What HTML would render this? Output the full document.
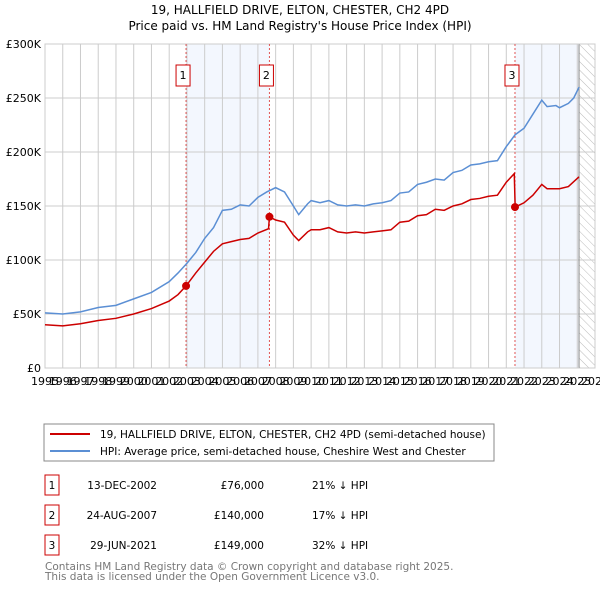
<!DOCTYPE html>
<html><head><meta charset="utf-8"><style>
body{margin:0;background:#fff;font-family:"Liberation Sans","DejaVu Sans",sans-serif;}
svg text{font-family:"DejaVu Sans","Liberation Sans",sans-serif;}
</style></head><body>
<svg id="c" width="600" height="590" xmlns="http://www.w3.org/2000/svg">
<defs><pattern id="h" width="6" height="6" patternUnits="userSpaceOnUse" patternTransform="rotate(-45)"><line x1="0" y1="0" x2="0" y2="6" stroke="#bbb" stroke-width="1"/></pattern></defs>
<text x="300" y="14" text-anchor="middle" font-size="12">19, HALLFIELD DRIVE, ELTON, CHESTER, CH2 4PD</text>
<text x="300" y="30" text-anchor="middle" font-size="12">Price paid vs. HM Land Registry's House Price Index (HPI)</text>
<g id="plot"></g>
<rect x="44" y="424" width="450" height="37" fill="none" stroke="#888"/>
<line x1="50" y1="434" x2="90" y2="434" stroke="#cc0000" stroke-width="2"/>
<text x="100" y="438" font-size="10.5">19, HALLFIELD DRIVE, ELTON, CHESTER, CH2 4PD (semi-detached house)</text>
<line x1="50" y1="451" x2="90" y2="451" stroke="#5b8fd4" stroke-width="2"/>
<text x="100" y="455" font-size="10.5">HPI: Average price, semi-detached house, Cheshire West and Chester</text>
<g id="tbl" font-size="10.5"></g>
<text x="45" y="570" font-size="10.5" fill="#777">Contains HM Land Registry data © Crown copyright and database right 2025.</text>
<text x="45" y="580" font-size="10.5" fill="#777">This data is licensed under the Open Government Licence v3.0.</text>
</svg>
<script>
const hpiYears=[1995,1996,1997,1998,1999,2000,2001,2002,2002.5,2003,2003.5,2004,2004.5,2005,2005.5,2006,2006.5,2007,2007.5,2008,2008.5,2009,2009.3,2009.8,2010,2010.5,2011,2011.5,2012,2012.5,2013,2013.5,2014,2014.5,2015,2015.5,2016,2016.5,2017,2017.5,2018,2018.5,2019,2019.5,2020,2020.5,2021,2021.5,2022,2022.5,2023,2023.3,2023.8,2024,2024.5,2024.8,2025.1];
const hpiValues=[51,50,52,56,58,64,70,80,88,97,107,120,130,146,147,151,150,158,163,167,163,150,142,152,155,153,155,151,150,151,150,152,153,155,162,163,170,172,175,174,181,183,188,189,191,192,205,216,222,235,248,242,243,241,245,250,260];
const ppYears=[1995,1996,1997,1998,1999,2000,2001,2002,2002.5,2002.95,2003.5,2004,2004.5,2005,2005.5,2006,2006.5,2007,2007.6,2007.65,2008,2008.5,2009,2009.3,2009.8,2010,2010.5,2011,2011.5,2012,2012.5,2013,2013.5,2014,2014.5,2015,2015.5,2016,2016.5,2017,2017.5,2018,2018.5,2019,2019.5,2020,2020.5,2021,2021.45,2021.5,2022,2022.5,2023,2023.3,2024,2024.5,2025.1];
const ppValues=[40,39,41,44,46,50,55,62,68,76,88,98,108,115,117,119,120,125,129,140,137,135,123,118,126,128,128,130,126,125,126,125,126,127,128,135,136,141,142,147,146,150,152,156,157,159,160,172,180,149,153,160,170,166,166,168,177];
const saleYears=[2002.95,2007.65,2021.49];
const saleValues=[76,140,149];
const saleLabels=["1","2","3"];
const saleDates=["13-DEC-2002","24-AUG-2007","29-JUN-2021"];
const salePrices=["£76,000","£140,000","£149,000"];
const saleDiffs=["21% ↓ HPI","17% ↓ HPI","32% ↓ HPI"];
const yTicks=[0,50,100,150,200,250,300];
const yTickLabels=["£0","£50K","£100K","£150K","£200K","£250K","£300K"];
const xTicks=[];for(let y=1995;y<=2026;y++)xTicks.push(y);

const L=45,R=595,T=44,B=368,NS="http://www.w3.org/2000/svg";
const xs=y=>L+(y-1995)/31*(R-L);
const ys=v=>B-v/300*(B-T);
const g=document.getElementById('plot');
function mk(t,a,p){const e=document.createElementNS(NS,t);for(const k in a)e.setAttribute(k,a[k]);(p||g).appendChild(e);return e;}
let e;
e=mk('rect',{x:xs(saleYears[0]),y:T,width:xs(saleYears[1])-xs(saleYears[0]),height:B-T,fill:'#f3f7fe'});


e=mk('rect',{x:xs(saleYears[2]),y:T,width:xs(2025.1)-xs(saleYears[2]),height:B-T,fill:'#f3f7fe'});


e=mk('rect',{x:xs(2025.1),y:T,width:R-xs(2025.1),height:B-T,fill:'url(#h)'});


xTicks.forEach(y=>{
 e=mk('line',{x1:xs(y),x2:xs(y),y1:T,y2:B,stroke:'#ccc'});
 
 
 e=mk('text',{x:xs(y),y:B+17,'font-size':11,'text-anchor':'middle'});
 e.textContent=y;
 
 
});
yTicks.forEach((v,i)=>{
 e=mk('line',{x1:L,x2:R,y1:ys(v),y2:ys(v),stroke:'#ccc'});
 
 
 e=mk('text',{x:L-4,y:ys(v)+4,'font-size':11,'text-anchor':'end'});
 e.textContent=yTickLabels[i];
 
 
});
e=mk('line',{x1:xs(2025.1),x2:xs(2025.1),y1:T,y2:B,stroke:'#888'});


e=mk('rect',{x:L,y:T,width:R-L,height:B-T,fill:'none',stroke:'#ccc'});


saleYears.forEach((y,i)=>{
 e=mk('line',{x1:xs(y),x2:xs(y),y1:T,y2:B,stroke:'#e05555','stroke-dasharray':'2,2'});
 
 
 e=mk('rect',{x:xs(y)-10,y:65,width:14,height:21,fill:'#fff',stroke:'#cc0000'});
 
 
 e=mk('text',{x:xs(y)-3,y:79,'font-size':11,'text-anchor':'middle'});
 e.textContent=saleLabels[i];
 
 
});
e=mk('polyline',{points:hpiYears.map((y,i)=>xs(y)+','+ys(hpiValues[i])).join(' '),fill:'none',stroke:'#5b8fd4','stroke-width':1.5});


e=mk('polyline',{points:ppYears.map((y,i)=>xs(y)+','+ys(ppValues[i])).join(' '),fill:'none',stroke:'#cc0000','stroke-width':1.5});


saleYears.forEach((y,i)=>{
 e=mk('circle',{cx:xs(y),cy:ys(saleValues[i]),r:4,fill:'#cc0000'});
 
 
});
const tb=document.getElementById('tbl');
saleLabels.forEach((l,i)=>{
 const cy=485+i*30;
 e=mk('rect',{x:45,y:cy-10,width:14,height:20,fill:'#fff',stroke:'#cc0000'},tb);
 
 
 e=mk('text',{x:52,y:cy+4,'text-anchor':'middle'},tb);e.textContent=l;
 
 
 e=mk('text',{x:157,y:cy+4,'text-anchor':'end'},tb);e.textContent=saleDates[i];
 
 
 e=mk('text',{x:264,y:cy+4,'text-anchor':'end'},tb);e.textContent=salePrices[i];
 
 
 e=mk('text',{x:312,y:cy+4},tb);e.textContent=saleDiffs[i];
 
 
});
</script>
</body></html>
